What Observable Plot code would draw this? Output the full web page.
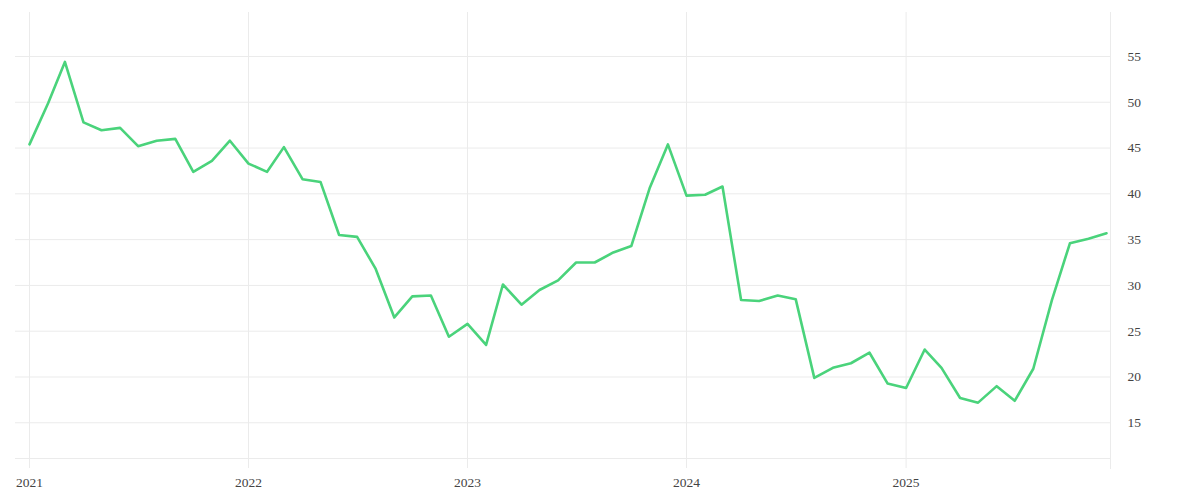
<!DOCTYPE html>
<html>
<head>
<meta charset="utf-8">
<script src="https://cdn.jsdelivr.net/npm/d3@7"></script>
<script src="https://cdn.jsdelivr.net/npm/@observablehq/plot@0.6"></script>
<style>
  html, body { margin: 0; padding: 0; background: #fff; }
  #chart svg { display: block; }
</style>
</head>
<body>
<div id="chart"></div>
<script>
// Monthly series, Jan 2021 – Dec 2025
const startMonth = "2021-01-01";
const values2021 = [45.4, 49.9, 54.4, 47.8, 46.95, 47.2, 45.2, 45.8, 46.0, 42.4, 43.6, 45.8];
const values2022 = [43.3, 42.4, 45.1, 41.6, 41.3, 35.5, 35.3, 31.8, 26.5, 28.8, 28.9, 24.4];
const values2023 = [25.8, 23.5, 30.1, 27.9, 29.5, 30.55, 32.5, 32.5, 33.6, 34.3, 40.7, 45.4];
const values2024 = [39.8, 39.9, 40.8, 28.4, 28.3, 28.9, 28.5, 19.9, 21.0, 21.5, 22.65, 19.3];
const values2025 = [18.8, 23.0, 21.0, 17.7, 17.2, 19.0, 17.4, 20.9, 28.4, 34.6, 35.1, 35.7];

const yTicks = [15, 20, 25, 30, 35, 40, 45, 50, 55];
const yDomain = [11.1, 59.8];
const xTickYears = ["2021-01-01", "2022-01-01", "2023-01-01", "2024-01-01", "2025-01-01"];

const allValues = [...values2021, ...values2022, ...values2023, ...values2024, ...values2025];
const start = new Date(startMonth);
const data = allValues.map((v, i) => ({ date: d3.utcMonth.offset(start, i), value: v }));
const xTicks = xTickYears.map(d => new Date(d));

const chart = Plot.plot({
  width: 1200,
  height: 500,
  marginLeft: 15,
  marginRight: 90,
  marginTop: 12,
  marginBottom: 42,
  style: { fontFamily: "'Liberation Serif', serif", fontSize: "13.5px", color: "#444", background: "#fff" },
  x: { type: "utc", domain: [data[0].date, data[data.length - 1].date], insetLeft: 14, insetRight: 4, label: null },
  y: { domain: yDomain, label: null },
  marks: [
    Plot.gridY(yTicks, { stroke: "#ebebeb", strokeOpacity: 1 }),
    Plot.gridX(xTicks, { stroke: "#ebebeb", strokeOpacity: 1, insetBottom: -10 }),
    Plot.frame({ anchor: "bottom", stroke: "#ebebeb" }),
    Plot.frame({ anchor: "right", stroke: "#ebebeb", insetBottom: -10 }),
    Plot.axisX(xTicks, { tickSize: 0, tickPadding: 19, tickFormat: d3.utcFormat("%Y"), fill: "#444", label: null, fontFamily: "'Liberation Serif', serif", fontSize: 13.5 }),
    Plot.axisY(yTicks, { anchor: "right", tickSize: 0, tickPadding: 17, textAnchor: "start", fill: "#444", label: null, fontFamily: "'Liberation Serif', serif", fontSize: 13.5 }),
    Plot.lineY(data, { x: "date", y: "value", stroke: "#4ad37b", strokeWidth: 2.6 })
  ]
});
document.getElementById("chart").appendChild(chart);
</script>
</body>
</html>
